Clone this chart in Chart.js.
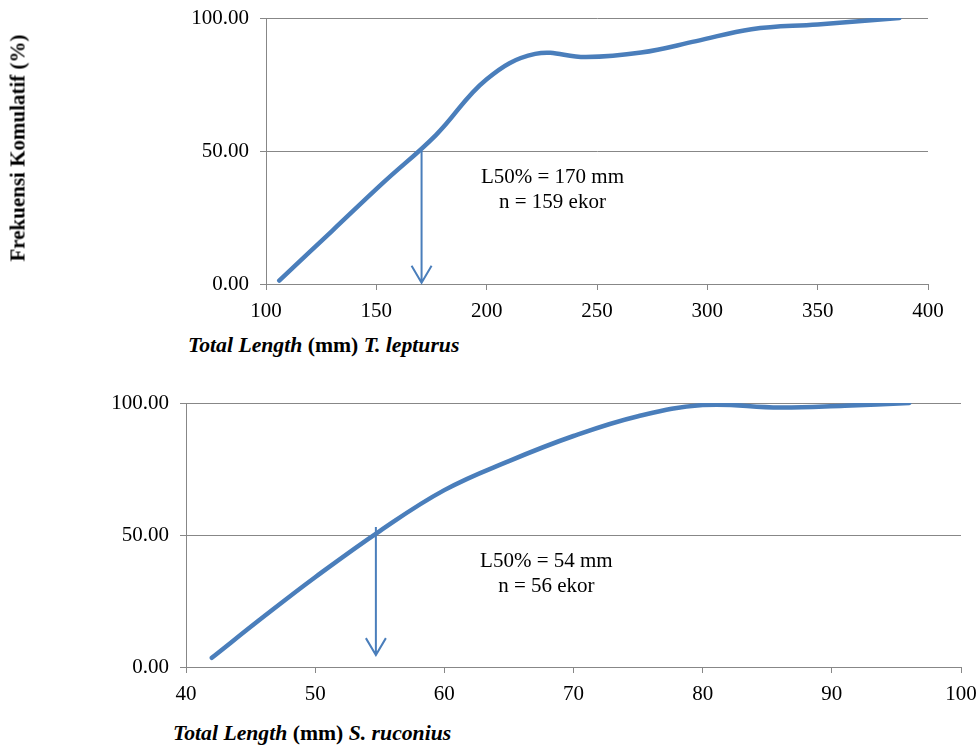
<!DOCTYPE html>
<html>
<head>
<meta charset="utf-8">
<script src="https://cdn.jsdelivr.net/npm/chart.js@4.4.1/dist/chart.umd.min.js"></script>
<style>
  body { margin: 0; background: #fff; width: 978px; height: 746px; position: relative; overflow: hidden; font-family: "Liberation Serif", "Times New Roman", serif; }
  .box { position: absolute; left: 0; width: 978px; height: 320px; }
  .xt { position: absolute; font-size: 21.7px; font-weight: bold; white-space: nowrap; line-height: 1; }
  .xt i { font-style: italic; }
  .yt { position: absolute; font-size: 21px; font-weight: bold; white-space: nowrap; line-height: 1;
        left: 18px; top: 148px; transform: translate(-50%, -50%) rotate(-90deg); }
</style>
</head>
<body>
<div class="box" style="top:0"><canvas id="c1" width="978" height="320"></canvas></div>
<div class="box" style="top:384px"><canvas id="c2" width="978" height="320"></canvas></div>
<div class="yt">Frekuensi Komulatif (%)</div>
<div class="xt" style="left:188px; top:335px"><i>Total Length</i> (mm) <i>T. lepturus</i></div>
<div class="xt" style="left:173px; top:723px"><i>Total Length</i> (mm) <i>S. ruconius</i></div>
<script>
// T. lepturus
const topLen = [106, 130, 153, 177, 200, 222, 245, 270, 295, 320, 350, 387];
const topCum = [1.3, 20, 38, 56, 77, 86.5, 85.3, 87, 91.3, 95.8, 97.6, 100];
// S. ruconius
const botLen = [42, 46, 50, 55, 60, 65, 70, 75, 80, 86, 91, 96];
const botCum = [3.5, 19, 34, 51.5, 67, 78, 87.5, 95, 99.2, 98.3, 99, 100];

const yTicks = [0, 50, 100];

const serif = '"Liberation Serif", "Times New Roman", serif';
const gridGray = '#878787';
const lineBlue = '#4a7ebb';

// arrow + L50 text drawn in data coords
const l50Plugin = {
  id: 'l50',
  afterDatasetsDraw(chart, args, opts) {
    const { ctx, scales: { x, y } } = chart;
    const ax = x.getPixelForValue(opts.arrowX);
    const y0 = y.getPixelForValue(opts.arrowFrom);
    const y1 = y.getPixelForValue(opts.arrowTo);
    ctx.save();
    ctx.strokeStyle = lineBlue;
    ctx.lineWidth = 2;
    ctx.beginPath();
    ctx.moveTo(ax, y0);
    ctx.lineTo(ax, y1);
    ctx.moveTo(ax - 10, y1 - 17);
    ctx.lineTo(ax, y1);
    ctx.lineTo(ax + 10, y1 - 17);
    ctx.stroke();
    ctx.fillStyle = '#000';
    ctx.font = '21px ' + serif;
    ctx.textAlign = 'center';
    ctx.textBaseline = 'middle';
    opts.lines.forEach(l => {
      ctx.fillText(l.text, x.getPixelForValue(l.x), y.getPixelForValue(l.y));
    });
    ctx.restore();
  }
};

function makeChart(id, xs, ys, xMin, xMax, xStep, pad, xH, l50) {
  return new Chart(document.getElementById(id), {
    type: 'scatter',
    data: {
      datasets: [{
        data: xs.map((v, i) => ({ x: v, y: ys[i] })),
        showLine: true,
        tension: 0.4,
        borderColor: lineBlue,
        borderWidth: 4.5,
        borderCapStyle: 'round',
        pointRadius: 0
      }]
    },
    options: {
      responsive: false,
      animation: false,
      layout: { padding: pad },
      plugins: { legend: { display: false }, tooltip: { enabled: false }, l50: l50 },
      scales: {
        x: {
          type: 'linear', min: xMin, max: xMax,
          afterFit: s => { s.height = xH; s.paddingLeft = 0; s.paddingRight = 0; },
          grid: { drawOnChartArea: false, color: gridGray, tickLength: 6 },
          border: { color: gridGray },
          ticks: { stepSize: xStep, color: '#000', padding: 9, font: { family: serif, size: 21 } }
        },
        y: {
          min: 0, max: 100,
          afterFit: s => { s.width = 80; s.paddingTop = 0; s.paddingBottom = 0; },
          afterBuildTicks: s => { s.ticks = yTicks.map(v => ({ value: v })); },
          grid: { color: gridGray, tickLength: 6 },
          border: { color: gridGray },
          ticks: { color: '#000', padding: 11, font: { family: serif, size: 21 },
                   callback: v => v.toFixed(2) }
        }
      }
    },
    plugins: [l50Plugin]
  });
}

makeChart('c1', topLen, topCum, 100, 400, 50,
  { left: 186, right: 50, top: 18, bottom: 0 }, 36,
  { arrowX: 170.5, arrowFrom: 50, arrowTo: 0.5,
    lines: [{ text: 'L50% = 170 mm', x: 229.8, y: 40 }, { text: 'n = 159 ekor', x: 229.8, y: 30.5 }] });

makeChart('c2', botLen, botCum, 40, 100, 10,
  { left: 106, right: 17, top: 19, bottom: 0 }, 37,
  { arrowX: 54.7, arrowFrom: 53, arrowTo: 4.5,
    lines: [{ text: 'L50% = 54 mm', x: 67.9, y: 39.8 }, { text: 'n = 56 ekor', x: 67.9, y: 30.4 }] });
</script>
</body>
</html>
